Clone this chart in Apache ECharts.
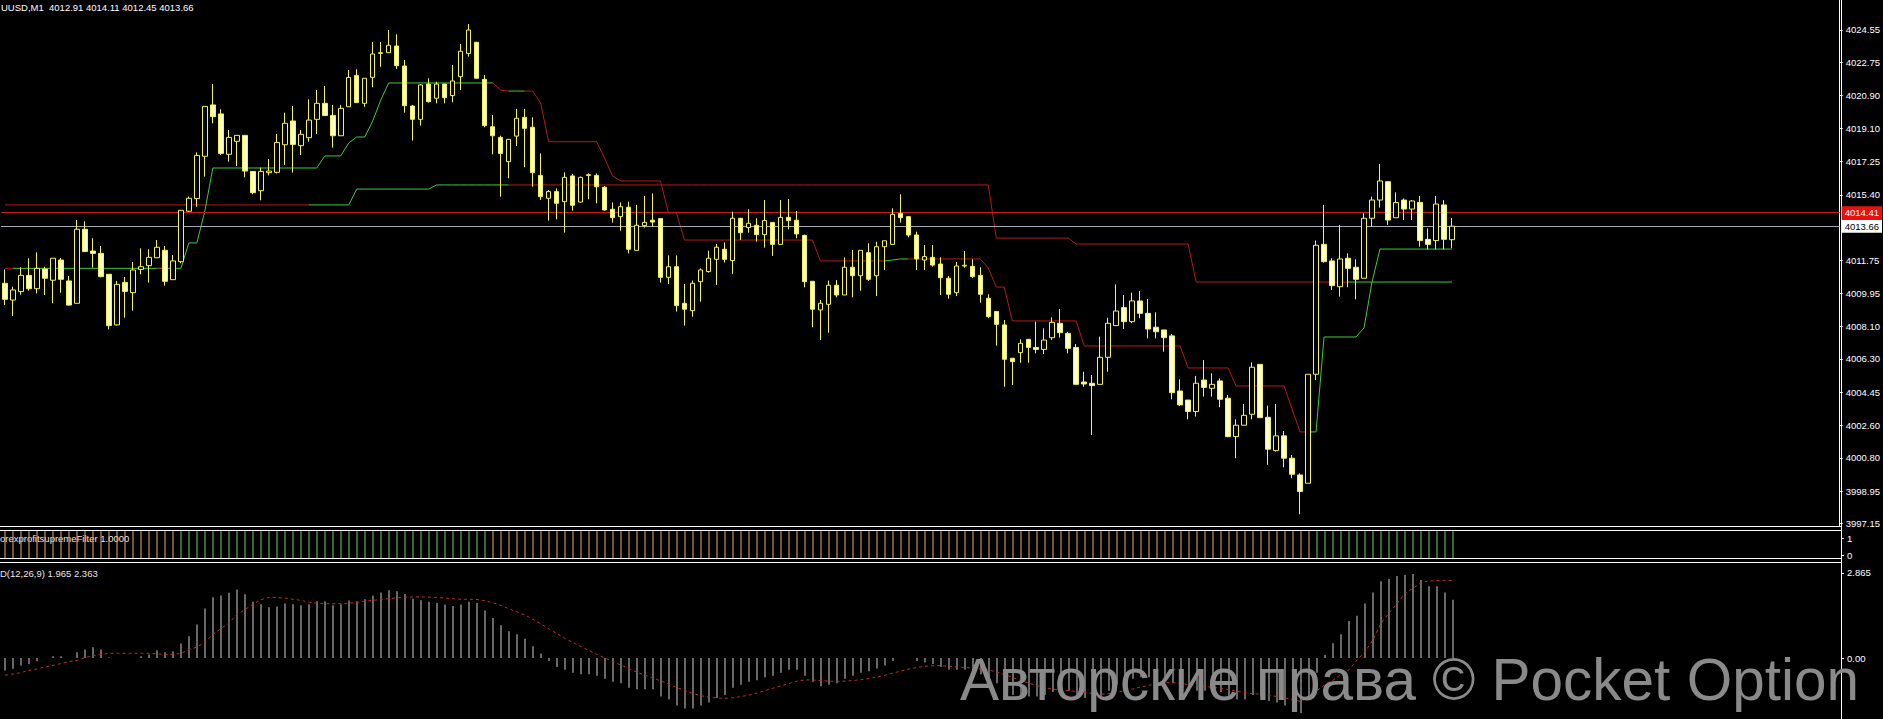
<!DOCTYPE html>
<html><head><meta charset="utf-8">
<script src="https://cdn.jsdelivr.net/npm/echarts@6/dist/echarts.min.js"></script>
<style>html,body{margin:0;padding:0;background:#000;overflow:hidden}#c{width:1883px;height:719px}</style>
</head><body><div id="c"></div><script>
// ---------------- data ----------------
const symbolTitle = 'UUSD,M1  4012.91 4014.11 4012.45 4013.66';
const filterTitle = 'orexprofitsupremeFilter 1.0000';
const macdTitle = 'D(12,26,9) 1.965 2.363';
const watermark = 'Авторские права © Pocket Option';
const totalSlots = 230;            // bars + empty right shift area
const askPrice = 4014.41;
const bidPrice = 4013.66;
const priceTicks = [4024.55,4022.75,4020.90,4019.10,4017.25,4015.40,4011.75,4009.95,4008.10,4006.30,4004.45,4002.60,4000.80,3998.95,3997.15];
const filterTicks = [0,1];
const macdTicks = [0,2.865];

const opens = [4010.49,4009.56,4010.03,4010.93,4010.19,4011.28,4010.66,4011.78,4010.62,4009.38,
4013.49,4012.28,4012.15,4010.99,4008.18,4010.54,4009.97,4011.26,4011.47,4011.91,
4012.32,4010.69,4011.69,4014.49,4015.19,4017.54,4020.39,4019.89,4017.65,4018.37,
4018.70,4016.70,4015.63,4016.63,4016.65,4018.18,4019.50,4018.13,4018.57,4019.59,
4020.48,4019.81,4018.68,4020.29,4022.03,4020.48,4021.92,4023.25,4023.29,4023.66,
4022.55,4020.33,4019.59,4021.55,4020.76,4021.55,4020.91,4021.96,4023.25,4023.87,
4021.81,4019.18,4018.59,4017.24,4018.66,4019.70,4019.15,4016.48,4015.21,4015.58,
4015.02,4016.45,4015.00,4016.47,4016.48,4015.82,4014.60,4014.19,4014.71,4012.32,
4013.69,4013.99,4014.08,4010.82,4011.41,4009.38,4008.97,4010.58,4011.14,4011.82,
4012.38,4011.75,4014.10,4013.58,4013.71,4013.19,4013.87,4012.65,4014.15,4013.99,
4013.15,4010.60,4009.01,4009.32,4010.38,4009.84,4011.38,4010.91,4012.19,4010.91,
4012.52,4012.65,4014.37,4014.19,4013.17,4011.78,4011.93,4011.56,4010.77,4009.97,
4011.45,4011.43,4010.93,4009.66,4008.92,4008.18,4006.33,4006.64,4007.38,4006.93,
4006.82,4007.47,4008.27,4007.71,4006.93,4005.01,4004.94,4004.88,4006.38,4008.14,
4009.14,4008.36,4009.51,4008.82,4008.05,4007.90,4007.57,4004.51,4004.01,4003.37,
4005.12,4004.66,4005.07,4004.11,4001.98,4002.61,4003.22,4005.99,4003.05,4001.20,
4002.02,4000.78,3999.85,3999.39,4005.44,4012.65,4011.73,4010.30,4011.88,4011.38,
4010.77,4014.10,4015.11,4016.13,4014.13,4015.11,4014.61,4014.98,4012.93,4012.86,
4014.84,4012.91];
const closes = [4009.60,4010.12,4010.93,4010.19,4011.32,4010.77,4011.88,4010.71,4009.28,4013.49,
4012.25,4012.15,4010.86,4008.14,4010.43,4010.04,4011.23,4011.41,4011.93,4012.49,
4010.60,4011.73,4014.54,4015.21,4017.59,4020.31,4019.74,4017.70,4018.59,4018.70,
4016.72,4015.52,4016.70,4016.72,4018.31,4019.37,4018.20,4018.76,4019.55,4020.48,
4019.80,4018.68,4020.20,4021.92,4020.52,4021.87,4023.22,4023.29,4023.70,4022.57,
4020.35,4019.59,4021.50,4020.57,4021.55,4020.79,4021.72,4023.37,4024.55,4021.87,
4019.24,4018.68,4017.70,4018.48,4019.65,4019.09,4016.63,4015.30,4015.58,4014.93,
4016.37,4014.82,4016.37,4016.52,4015.85,4014.56,4014.13,4014.74,4012.38,4013.71,
4013.87,4013.89,4010.82,4011.41,4009.25,4009.05,4010.49,4011.23,4011.88,4012.49,
4011.82,4014.10,4013.30,4013.82,4013.19,4013.97,4012.65,4014.15,4013.97,4013.23,
4010.58,4009.05,4009.38,4010.38,4009.84,4011.38,4010.91,4012.32,4010.71,4012.52,
4012.85,4014.32,4014.13,4013.17,4011.84,4011.97,4011.50,4010.80,4009.88,4011.45,
4011.49,4010.86,4009.88,4008.64,4008.21,4006.27,4006.14,4007.16,4006.93,4006.82,
4007.34,4008.32,4007.75,4006.88,4004.88,4004.90,4004.81,4006.38,4008.27,4008.95,
4008.36,4009.51,4008.82,4007.95,4007.80,4007.47,4004.42,4003.74,4003.37,4004.94,
4004.71,4004.88,4004.05,4001.98,4002.61,4003.16,4005.83,4003.03,4001.28,4002.02,
4000.78,3999.89,3998.93,4005.44,4012.60,4011.69,4010.36,4011.84,4011.32,4010.71,
4014.10,4015.11,4016.17,4014.00,4014.97,4014.61,4015.06,4012.86,4012.65,4014.89,
4012.93,4013.66];
const lows = [4009.28,4008.68,4009.86,4010.08,4009.93,4009.84,4009.38,4009.97,4009.25,4009.38,
4012.23,4011.36,4010.82,4007.93,4008.14,4008.58,4008.97,4010.99,4010.53,4011.88,
4010.36,4010.69,4011.60,4014.45,4014.74,4016.41,4019.37,4017.61,4017.24,4017.00,
4016.37,4015.43,4015.10,4016.48,4016.59,4017.06,4016.63,4017.61,4018.35,4018.78,
4019.80,4018.02,4018.68,4020.29,4020.52,4020.29,4021.37,4022.51,4023.29,4022.39,
4019.96,4018.41,4019.24,4020.52,4020.48,4020.48,4020.54,4021.22,4023.07,4021.87,
4019.15,4017.65,4015.30,4016.32,4018.11,4016.93,4015.85,4015.11,4013.97,4014.04,
4013.30,4014.52,4014.98,4015.15,4014.93,4014.52,4013.86,4013.41,4012.15,4012.32,
4013.58,4013.63,4010.53,4010.45,4008.92,4008.14,4008.64,4009.47,4011.08,4010.40,
4011.64,4011.01,4012.89,4013.30,4012.80,4012.47,4012.01,4012.65,4013.48,4012.99,
4010.27,4008.05,4007.34,4007.75,4009.71,4009.84,4009.71,4010.08,4010.62,4009.78,
4011.23,4012.65,4013.86,4013.04,4011.23,4011.23,4011.41,4009.84,4009.64,4009.78,
4011.36,4010.78,4009.41,4008.55,4007.03,4004.75,4004.84,4006.08,4006.08,4006.60,
4006.56,4007.34,4007.47,4006.60,4004.88,4004.75,4002.07,4004.88,4005.58,4008.14,
4007.95,4008.27,4008.55,4007.43,4007.43,4006.69,4004.05,4003.68,4002.94,4003.09,
4004.20,4004.20,4003.61,4001.94,4000.78,4002.61,4002.94,4003.03,4000.41,4001.15,
4000.28,3999.67,3997.67,3999.39,4005.12,4011.64,4010.12,4009.75,4010.27,4009.60,
4010.77,4013.63,4014.69,4013.73,4014.13,4014.00,4014.00,4012.52,4012.37,4012.37,
4012.37,4012.45];
const highs = [4011.26,4010.30,4011.38,4011.88,4012.21,4011.41,4011.88,4011.89,4010.90,4014.00,
4013.93,4012.99,4012.56,4010.99,4010.62,4010.84,4011.67,4012.43,4012.38,4012.89,
4012.56,4012.06,4014.56,4015.30,4017.76,4020.31,4021.55,4020.15,4019.00,4018.70,
4018.70,4016.70,4016.91,4017.39,4018.78,4019.96,4020.33,4019.00,4020.70,4021.22,
4021.44,4020.39,4020.39,4022.33,4022.37,4021.87,4023.88,4023.88,4024.55,4024.31,
4022.88,4020.39,4021.55,4021.87,4021.68,4021.55,4022.61,4023.77,4024.88,4023.87,
4022.05,4019.83,4018.68,4018.48,4020.17,4020.17,4019.70,4017.70,4015.67,4015.76,
4016.65,4016.56,4016.41,4016.59,4016.59,4015.89,4014.98,4014.98,4015.02,4014.84,
4015.34,4015.48,4014.08,4012.04,4012.04,4010.45,4010.64,4011.32,4012.30,4012.67,
4012.76,4014.47,4014.10,4014.60,4014.10,4015.11,4013.87,4015.11,4015.17,4014.50,
4013.19,4010.60,4009.56,4010.64,4010.67,4011.93,4012.34,4012.32,4012.71,4012.80,
4012.85,4014.65,4015.43,4014.22,4013.35,4012.61,4012.61,4011.93,4010.89,4011.67,
4012.28,4011.82,4011.38,4009.88,4008.95,4008.45,4006.33,4007.38,4007.38,4008.36,
4007.99,4008.60,4009.06,4007.80,4007.12,4005.58,4005.40,4007.53,4008.58,4010.43,
4009.84,4009.97,4010.06,4009.62,4008.88,4007.90,4007.68,4005.16,4004.01,4005.35,
4006.23,4005.49,4005.21,4004.29,4002.94,4003.79,4006.10,4005.99,4003.70,4003.79,
4002.29,4000.96,3999.94,4005.44,4012.86,4014.84,4011.88,4013.73,4012.15,4011.82,
4014.37,4015.30,4017.11,4016.17,4015.54,4015.20,4015.11,4015.34,4013.54,4015.34,
4015.11,4014.11];

// stepped stop lines, written as [value, number of bars]
const fastLineRuns = [[4011.32,23],[4012.73,2],[4014.50,1],[4016.89,14],[4017.56,3],[4018.28,1],[4018.61,2],[4019.50,1],[4020.66,1],[4021.61,14],[4021.22,1],[4021.16,4],[4020.50,1],[4018.35,7],[4017.44,1],[4016.45,1],[4016.17,6],[4014.39,2],[4012.89,17],[4011.73,9],[4011.78,1],[4011.84,11],[4011.34,1],[4010.28,2],[4008.40,9],[4007.01,13],[4005.79,6],[4004.79,7],[4003.51,1],[4002.24,3],[4007.51,5],[4008.01,1],[4010.56,1],[4012.39,10]];
const fastColorRuns = [['r',2],['g',18],['r',1],['g',41],['r',2],['g',2],['r',45],['g',3],['r',50],['g',18]];
const slowLineRuns = [[4014.84,44],[4015.72,10],[4015.95,70],[4013.00,10],[4012.67,15],[4010.56,33]];
const slowColorRuns = [['r',39],['g',25],['r',105],['g',13]];
const filterColorRuns = [['o',22],['g',39],['o',103],['g',18]];

const macdHist = [-0.42,-0.36,-0.25,-0.21,-0.11,0,0.06,0.06,0,0.19,
0.29,0.36,0.29,0.02,0,0,0,0.06,0.12,0.26,
0.19,0.22,0.49,0.73,1.13,1.67,2.05,2.11,2.20,2.31,
2.15,1.90,1.81,1.71,1.74,1.84,1.81,1.78,1.81,1.91,
1.91,1.78,1.81,1.94,1.91,1.98,2.11,2.21,2.28,2.25,
2.15,2.0,1.95,1.9,1.85,1.8,1.75,1.8,1.9,1.85,
1.6,1.35,1.1,0.9,0.8,0.65,0.4,0.15,-0.1,-0.3,
-0.4,-0.5,-0.55,-0.55,-0.6,-0.7,-0.8,-0.85,-1.0,-1.05,
-1.05,-1.05,-1.3,-1.4,-1.6,-1.7,-1.7,-1.6,-1.5,-1.35,
-1.25,-1.0,-0.9,-0.8,-0.75,-0.65,-0.6,-0.5,-0.4,-0.4,
-0.6,-0.8,-0.95,-0.9,-0.85,-0.7,-0.6,-0.5,-0.45,-0.35,
-0.25,-0.1,0,0,-0.1,-0.15,-0.2,-0.3,-0.4,-0.4,
-0.4,-0.45,-0.55,-0.7,-0.85,-1.1,-1.25,-1.3,-1.3,-1.3,
-1.25,-1.15,-1.1,-1.1,-1.25,-1.35,-1.4,-1.3,-1.1,-0.9,
-0.8,-0.7,-0.65,-0.65,-0.65,-0.65,-0.85,-1.0,-1.1,-1.1,
-1.1,-1.1,-1.15,-1.3,-1.4,-1.4,-1.25,-1.3,-1.45,-1.5,
-1.6,-1.7,-1.85,-1.4,-0.5,0.1,0.5,0.8,1.25,1.42,
1.84,2.21,2.59,2.66,2.76,2.80,2.83,2.63,2.42,2.42,
2.21,1.965];
const macdSignal = [-0.58,-0.54,-0.49,-0.42,-0.37,-0.30,-0.25,-0.19,-0.12,-0.08,
0.01,0.08,0.12,0.16,0.16,0.16,0.16,0.16,0.16,0.14,
0.12,0.12,0.16,0.28,0.37,0.53,0.80,0.99,1.18,1.47,
1.63,1.81,1.97,2.04,2.04,2.02,1.98,1.94,1.88,1.85,
1.83,1.83,1.83,1.85,1.87,1.92,1.94,1.98,2.00,2.03,
2.05,2.06,2.06,2.05,2.04,2.02,2.0,1.98,1.98,1.97,
1.93,1.86,1.77,1.66,1.55,1.45,1.30,1.15,0.98,0.82,
0.66,0.52,0.38,0.25,0.12,0.0,-0.12,-0.24,-0.36,-0.48,
-0.58,-0.67,-0.78,-0.88,-1.0,-1.1,-1.2,-1.27,-1.32,-1.35,
-1.36,-1.34,-1.3,-1.25,-1.18,-1.1,-1.02,-0.94,-0.86,-0.78,
-0.74,-0.74,-0.76,-0.78,-0.79,-0.78,-0.76,-0.73,-0.69,-0.64,
-0.58,-0.51,-0.44,-0.37,-0.32,-0.28,-0.26,-0.26,-0.28,-0.30,
-0.32,-0.34,-0.37,-0.41,-0.47,-0.56,-0.66,-0.76,-0.85,-0.93,
-1.0,-1.05,-1.08,-1.1,-1.13,-1.16,-1.2,-1.22,-1.2,-1.15,
-1.1,-1.04,-0.98,-0.92,-0.87,-0.83,-0.83,-0.86,-0.9,-0.93,
-0.96,-0.99,-1.02,-1.07,-1.12,-1.17,-1.2,-1.22,-1.26,-1.3,
-1.35,-1.4,-1.47,-1.3,-1.1,-0.9,-0.75,-0.55,-0.4,-0.07,
0.21,0.61,1.17,1.51,1.84,2.18,2.35,2.54,2.60,2.61,
2.61,2.61];

// ---------------- helpers ----------------
function expand(runs){const out=[];runs.forEach(([v,n])=>{for(let k=0;k<n;k++)out.push(v);});return out;}
const fastLine = expand(fastLineRuns), fastColor = expand(fastColorRuns);
const slowLine = expand(slowLineRuns), slowColor = expand(slowColorRuns);
const filterColor = expand(filterColorRuns);
function part(vals, states, c){return vals.map((v,i)=>(states[i]===c||states[i+1]===c)?v:null);}
const categories = []; for(let i=0;i<totalSlots;i++) categories.push(String(i));

const FONT = '"Liberation Sans", Arial, sans-serif';
const GREEN = '#3ccc3c', RED = '#b41a1a';
const priceMin = 3997.017, priceMax = 4026.215;

const chart = echarts.init(document.getElementById('c'), null, {renderer:'svg'});
const axisCommon = (g)=>({type:'category',gridIndex:g,data:categories,boundaryGap:true,show:false});
const lineSer = (data,color,z)=>({type:'line',xAxisIndex:0,yAxisIndex:0,data,showSymbol:false,symbol:'none',connectNulls:false,silent:true,lineStyle:{color,width:1},z});

chart.setOption({
  backgroundColor:'#000',
  animation:false,
  grid:[
    {left:1,right:42,top:0,height:526},
    {left:1,right:42,top:531,height:27},
    {left:1,right:42,top:563,height:156}
  ],
  xAxis:[axisCommon(0),axisCommon(1),axisCommon(2)],
  yAxis:[
    {type:'value',gridIndex:0,position:'right',min:priceMin,max:priceMax,splitLine:{show:false},
     axisLine:{show:true,lineStyle:{color:'#fff',width:1}},
     axisTick:{show:true,length:3,customValues:priceTicks,lineStyle:{color:'#fff'}},
     axisLabel:{customValues:priceTicks,color:'#fff',fontSize:9.5,fontFamily:FONT,margin:6,
       formatter:(v)=>Number(v).toFixed(2)}},
    {type:'value',gridIndex:1,min:0,max:1,show:false},
    {type:'value',gridIndex:1,position:'right',min:-0.176,max:1.412,splitLine:{show:false},
     axisLine:{show:true,lineStyle:{color:'#fff'}},
     axisTick:{show:true,length:3,customValues:filterTicks,lineStyle:{color:'#fff'}},
     axisLabel:{customValues:filterTicks,color:'#fff',fontSize:9.5,fontFamily:FONT,margin:6,formatter:(v)=>String(Math.round(v))}},
    {type:'value',gridIndex:2,position:'right',min:-2.056,max:3.202,splitLine:{show:false},
     axisLine:{show:true,lineStyle:{color:'#fff'}},
     axisTick:{show:true,length:3,customValues:macdTicks,lineStyle:{color:'#fff'}},
     axisLabel:{customValues:macdTicks,color:'#fff',fontSize:9.5,fontFamily:FONT,margin:6,
       formatter:(v)=>Math.abs(v)<1e-9?'0.00':Number(v).toFixed(3)}}
  ],
  series:[
    lineSer(part(slowLine,slowColor,'g'),GREEN,2),
    lineSer(part(slowLine,slowColor,'r'),RED,2),
    lineSer(part(fastLine,fastColor,'g'),GREEN,2),
    lineSer(part(fastLine,fastColor,'r'),RED,2),
    {type:'candlestick',xAxisIndex:0,yAxisIndex:0,barWidth:5,silent:true,z:5,
     data:opens.map((o,i)=>[o,closes[i],lows[i],highs[i]]),
     itemStyle:{color:'#000000',color0:'#ffffc8',borderColor:'#f2f250',borderColor0:'#f2f250',borderWidth:1},
     markLine:{silent:true,symbol:['none','none'],animation:false,
       lineStyle:{width:1,type:'solid'},
       label:{show:true,position:'end',distance:2,fontSize:9.5,fontFamily:FONT,padding:[2,3,1,3]},
       data:[
         {yAxis:askPrice,lineStyle:{color:'#c81818'},label:{formatter:askPrice.toFixed(2),color:'#fff',backgroundColor:'#e81010'}},
         {yAxis:bidPrice,lineStyle:{color:'#a4a4b4'},label:{formatter:bidPrice.toFixed(2),color:'#000',backgroundColor:'#fff'}}
       ]}},
    {type:'bar',xAxisIndex:1,yAxisIndex:1,barWidth:1,silent:true,
     data:filterColor.map(s=>({value:1,itemStyle:{color:s==='g'?'#6cd06c':'#f0a868'}}))},
    {type:'bar',xAxisIndex:2,yAxisIndex:3,barWidth:1,silent:true,itemStyle:{color:'#cfcfcf'},data:macdHist},
    {type:'line',xAxisIndex:2,yAxisIndex:3,data:macdSignal,showSymbol:false,symbol:'none',silent:true,
     lineStyle:{color:'#c02a2a',width:1,type:[3,3]},z:4}
  ],
  graphic:[
    {type:'line',silent:true,shape:{x1:0,y1:526.5,x2:1841,y2:526.5},style:{stroke:'#fff',lineWidth:1}},
    {type:'line',silent:true,shape:{x1:0,y1:530.5,x2:1841,y2:530.5},style:{stroke:'#fff',lineWidth:1}},
    {type:'line',silent:true,shape:{x1:0,y1:558.5,x2:1841,y2:558.5},style:{stroke:'#fff',lineWidth:1}},
    {type:'line',silent:true,shape:{x1:0,y1:562.5,x2:1841,y2:562.5},style:{stroke:'#fff',lineWidth:1}},
    {type:'line',silent:true,shape:{x1:1841.5,y1:0,x2:1841.5,y2:719},style:{stroke:'#fff',lineWidth:1}},
    {type:'text',silent:true,x:1,y:7,style:{text:symbolTitle,fill:'#fff',font:'9.5px '+FONT,textVerticalAlign:'middle',verticalAlign:'middle'}},
    {type:'text',silent:true,x:0,y:538.5,style:{text:filterTitle,fill:'#e8e8e8',font:'9.5px '+FONT,textVerticalAlign:'middle',verticalAlign:'middle'}},
    {type:'text',silent:true,x:0,y:573.5,style:{text:macdTitle,fill:'#e8e8e8',font:'9.5px '+FONT,textVerticalAlign:'middle',verticalAlign:'middle'}},
    {type:'text',silent:true,z:100,x:1859,y:679,style:{text:watermark,fill:'#8a8a8a',font:'58.5px '+FONT,textAlign:'right',align:'right',textVerticalAlign:'middle',verticalAlign:'middle'}}
  ]
});
</script></body></html>
